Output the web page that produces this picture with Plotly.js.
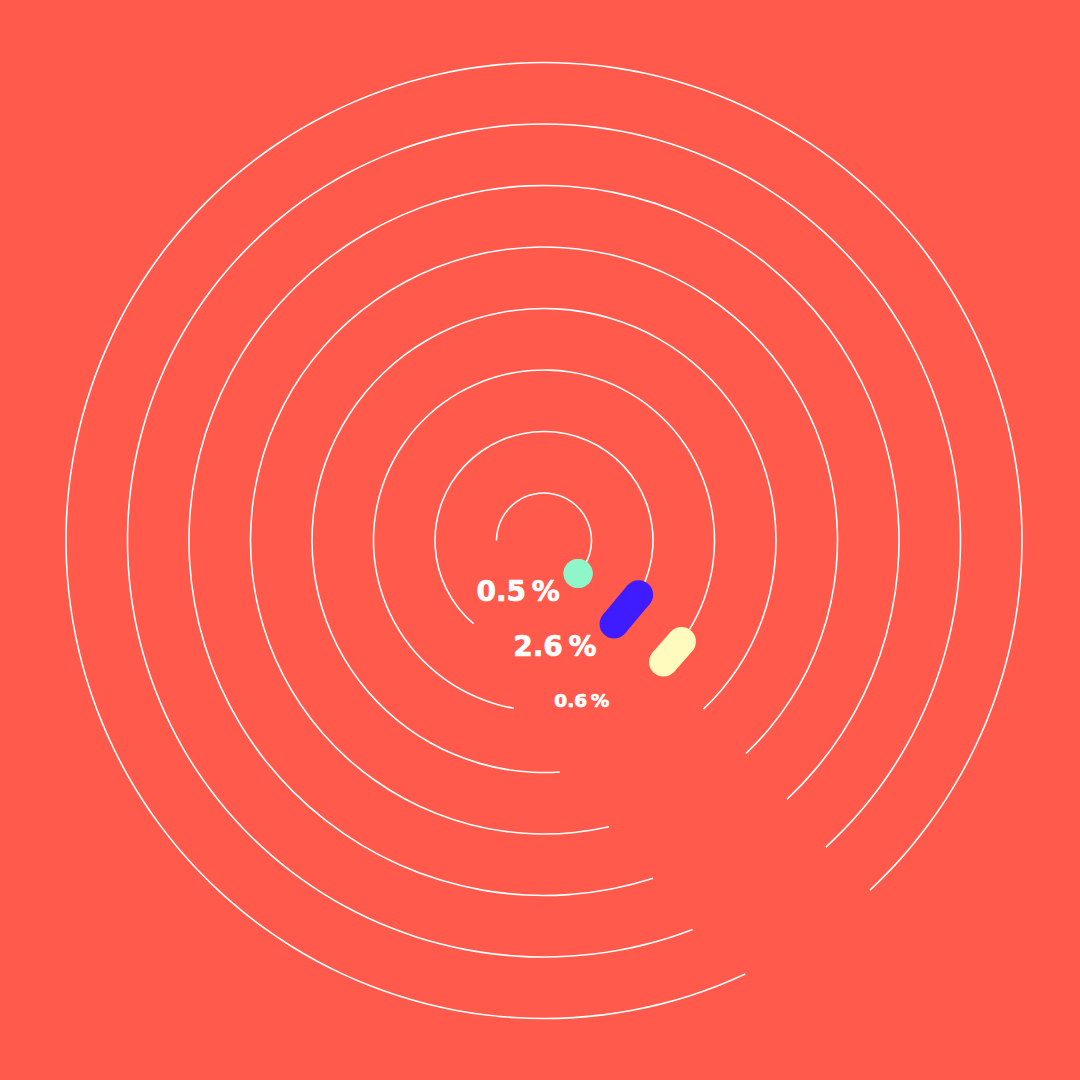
<!DOCTYPE html>
<html>
<head>
<meta charset="utf-8">
<script src="https://cdn.plot.ly/plotly-3.0.1.min.js"></script>
<style>
  html, body { margin: 0; padding: 0; background: #FF5A4B; }
  #chart { width: 1080px; height: 1080px; }
  /* the reference labels use a heavier face than DejaVu Bold */
  #chart .textpoint text { stroke: #FFFFFF; stroke-width: 0.7px; }
</style>
</head>
<body>
<div id="chart"></div>
<script>
// Ring tracks, innermost first. Angles in degrees, 0 = east, counter-clockwise positive;
// each track runs clockwise from its start to its end.
const rings         = [1, 2, 3, 4, 5, 6, 7, 8];
const trackStartDeg = [180, -130.3, -100.2, -86.1, -77.2, -72.1, -69.1, -65.1];
const trackEndDeg   = [-44.1, -50.0, -45.5, -46.6, -46.5, -46.8, -47.4, -47.0];

// Highlighted share on the three inner rings
const shareRings    = [1, 2, 3];
const shareLabels   = ['0.5\u202F%', '2.6\u202F%', '0.6\u202F%'];
const shareStartDeg = [-44.1, -29.8, -36.3];

const bg        = '#FF5A4B';
const lineColor = '#FFFFFF';
const shareColors = ['#8EF6C9', '#3F1BFF', '#FFFBBF'];
const CAP_PX    = 29;                   // capsule thickness in px
const PX_PER_R  = 61.5;                 // ring spacing in px
const R0        = 0.2276;               // radial value drawn at the centre

const sweep = (a, b) => ((a - b) % 360 + 360) % 360;

const traces = [];

// thin white tracks
traces.push({
    type: 'barpolar',
    r: rings.map(() => 1.6 / PX_PER_R),
    base: rings.map(k => k - 0.8 / PX_PER_R),
    theta: rings.map((k, i) => trackStartDeg[i] - sweep(trackStartDeg[i], trackEndDeg[i]) / 2),
    width: rings.map((k, i) => sweep(trackStartDeg[i], trackEndDeg[i])),
    marker: { color: lineColor, line: { width: 0 } },
    hoverinfo: 'skip'
});

// coloured capsules: thick stroke between the two ends, round ends from markers
shareRings.forEach((k, i) => {
    traces.push({
        type: 'scatterpolar', mode: 'lines+markers',
        r: [k, k], theta: [shareStartDeg[i], trackEndDeg[k - 1]],
        line: { color: shareColors[i], width: CAP_PX },
        marker: { size: CAP_PX, color: shareColors[i], line: { width: 0 } },
        hoverinfo: 'skip'
    });
});

// percentage labels
traces.push({
    type: 'scatterpolar', mode: 'text',
    r: [1.187, 2.008, 2.925],
    theta: [-116.0, -84.3, -76.8],
    text: shareLabels,
    textposition: 'middle center',
    textfont: { family: 'DejaVu Sans', weight: 'bold', size: [28, 28, 18.5], color: '#FFFFFF' },
    hoverinfo: 'skip'
});

const layout = {
    width: 1080, height: 1080,
    margin: { l: 8, r: 0, t: 1, b: 0 },
    paper_bgcolor: bg, plot_bgcolor: bg,
    showlegend: false,
    polar: {
        bgcolor: 'rgba(0,0,0,0)',
        barmode: 'overlay',
        radialaxis: { range: [R0, R0 + 536 / PX_PER_R], visible: false, showgrid: false, showline: false, showticklabels: false, ticks: '' },
        angularaxis: { visible: false, showgrid: false, showline: false, showticklabels: false, ticks: '' }
    }
};

Plotly.newPlot('chart', traces, layout, { staticPlot: true, displayModeBar: false });
</script>
</body>
</html>
